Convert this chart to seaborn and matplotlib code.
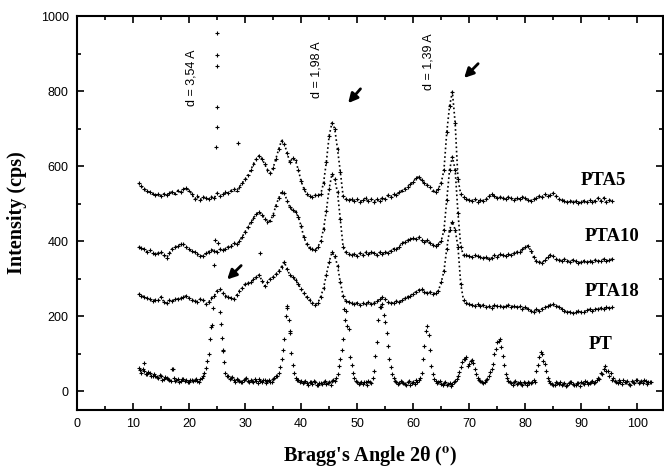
"""
XRD patterns of PT and PTA films (reference chart recreation)
"""

import numpy as np
import pandas as pd
import matplotlib
matplotlib.use("Agg")
import matplotlib.pyplot as plt
import seaborn as sns

sns.set_style("ticks")
plt.rcParams['font.family'] = ['Liberation Sans', 'DejaVu Sans']
plt.rcParams['mathtext.fontset'] = 'stix'
plt.rcParams['xtick.direction'] = 'in'
plt.rcParams['ytick.direction'] = 'in'
plt.rcParams['axes.edgecolor'] = 'black'
plt.rcParams['xtick.color'] = 'black'
plt.rcParams['ytick.color'] = 'black'
plt.rcParams['text.color'] = 'black'
plt.rcParams['axes.labelcolor'] = 'black'

# ===== DATA (intensity in cps, scan step 0.5 deg) =====
film_start, film_stop, pt_stop, step = 11.0, 95.5, 102.5, 0.5
two_theta_film = np.arange(film_start, film_stop + step / 2, step)
two_theta_pt = np.arange(film_start, pt_stop + step / 2, step)
two_theta_pt_half = two_theta_pt[:-1] + step / 2   # PT readings between the main grid

pta5 = [555, 546, 540, 534, 530, 527, 522, 525, 520, 526,
        522, 528, 532, 527, 535, 530, 538, 542, 535, 525,
        512, 520, 510, 518, 515, 512, 518, 515, 528, 520,
        525, 530, 528, 535, 540, 535, 545, 555, 565, 575,
        590, 605, 618, 628, 620, 605, 590, 582, 595, 620,
        645, 668, 660, 635, 610, 622, 615, 590, 560, 540,
        525, 520, 518, 522, 522, 525, 555, 610, 680, 715,
        700, 645, 585, 520, 512, 510, 512, 508, 512, 505,
        510, 515, 508, 512, 505, 512, 508, 516, 512, 522,
        518, 525, 522, 530, 535, 540, 545, 552, 558, 568,
        572, 562, 555, 550, 545, 535, 532, 540, 555, 590,
        690, 760, 798, 715, 565, 525, 518, 512, 510, 508,
        512, 505, 510, 508, 512, 520, 526, 520, 515, 518,
        515, 512, 518, 514, 510, 515, 512, 518, 515, 510,
        508, 512, 515, 520, 518, 525, 520, 522, 528, 520,
        512, 510, 508, 505, 508, 505, 506, 502, 505, 508,
        504, 510, 505, 508, 515, 508, 516, 505, 510, 507]

pta10 = [385, 382, 378, 372, 376, 368, 365, 368, 370, 362,
         356, 368, 380, 385, 388, 392, 392, 385, 378, 374,
         370, 366, 361, 360, 368, 372, 377, 375, 372, 378,
         376, 380, 385, 388, 395, 392, 400, 412, 425, 438,
         450, 462, 472, 478, 470, 460, 452, 455, 470, 495,
         515, 530, 528, 508, 490, 482, 478, 465, 440, 410,
         392, 382, 378, 376, 385, 400, 432, 480, 540, 578,
         565, 530, 458, 385, 370, 366, 362, 366, 360, 368,
         362, 370, 365, 372, 368, 362, 370, 366, 372, 368,
         375, 380, 378, 385, 395, 398, 402, 405, 408, 405,
         410, 402, 398, 402, 395, 390, 388, 392, 400, 430,
         510, 590, 625, 590, 475, 385, 362, 362, 360, 358,
         362, 360, 358, 355, 358, 352, 355, 362, 358, 365,
         362, 360, 365, 362, 368, 372, 370, 378, 385, 388,
         375, 358, 348, 345, 342, 350, 358, 364, 360, 352,
         350, 348, 352, 348, 345, 350, 346, 342, 345, 348,
         344, 348, 345, 350, 346, 348, 352, 348, 350, 352]

pta18 = [260, 255, 252, 248, 245, 240, 244, 242, 252, 238,
         234, 242, 240, 245, 246, 248, 252, 254, 248, 244,
         240, 239, 246, 244, 232, 238, 248, 254, 268, 272,
         262, 254, 252, 248, 246, 256, 268, 275, 285, 288,
         292, 298, 305, 310, 295, 280, 290, 300, 305, 312,
         320, 332, 345, 325, 310, 305, 296, 285, 272, 262,
         250, 242, 236, 231, 236, 252, 275, 310, 345, 370,
         360, 335, 290, 255, 240, 238, 235, 232, 236, 230,
         235, 232, 238, 232, 236, 240, 245, 250, 245, 238,
         234, 236, 240, 238, 242, 248, 252, 255, 260, 265,
         270, 272, 265, 262, 265, 260, 262, 268, 290, 320,
         380, 430, 452, 430, 385, 285, 242, 235, 232, 230,
         228, 232, 226, 230, 225, 228, 222, 230, 226, 228,
         224, 226, 230, 225, 228, 224, 226, 220, 225, 218,
         214, 212, 218, 215, 220, 224, 226, 230, 232, 228,
         225, 220, 215, 210, 212, 208, 212, 214, 210, 212,
         216, 218, 215, 220, 218, 222, 220, 224, 222, 225]

pt = [62, 50, 55, 45, 48, 40, 42, 36, 40, 33,
      35, 30, 58, 28, 32, 27, 33, 29, 26, 31,
      30, 27, 34, 40, 62, 100, 170, 337, 955, 210,
      110, 48, 40, 35, 30, 34, 28, 26, 32, 27,
      30, 26, 28, 33, 25, 30, 27, 24, 32, 40,
      50, 85, 140, 222, 160, 70, 35, 30, 28, 24,
      22, 26, 20, 24, 18, 22, 26, 20, 25, 28,
      28, 45, 85, 140, 215, 165, 70, 35, 24, 22,
      20, 24, 28, 22, 55, 130, 225, 232, 185, 120,
      65, 35, 24, 22, 26, 20, 24, 18, 25, 30,
      30, 50, 120, 175, 110, 45, 28, 25, 20, 22,
      18, 22, 20, 28, 40, 65, 85, 90, 72, 82,
      58, 35, 28, 22, 30, 40, 60, 100, 130, 140,
      95, 45, 28, 22, 25, 20, 24, 18, 22, 26,
      22, 30, 55, 90, 100, 72, 35, 22, 18, 24,
      20, 16, 22, 18, 24, 20, 17, 22, 25, 20,
      24, 22, 28, 24, 35, 50, 60, 55, 42, 30,
      28, 22, 26, 30, 24, 20, 27, 22, 30, 25,
      22, 28, 24, 26]

pt_half = [56, 58, 47, 52, 42, 45, 38, 44, 31, 37,
           33, 28, 35, 30, 25, 34, 28, 24, 30, 27,
           32, 25, 36, 48, 80, 140, 222, 651, 396, 180,
           79, 42, 33, 38, 26, 31, 24, 29, 35, 24,
           28, 32, 23, 27, 30, 22, 29, 26, 35, 42,
           65, 111, 200, 190, 103, 48, 30, 26, 22, 28,
           18, 24, 28, 17, 23, 20, 27, 22, 18, 30,
           35, 66, 110, 190, 175, 90, 48, 28, 20, 26,
           26, 18, 25, 35, 95, 190, 224, 204, 155, 85,
           45, 28, 20, 27, 22, 18, 28, 23, 20, 26,
           36, 85, 160, 150, 68, 32, 22, 27, 18, 24,
           20, 15, 25, 32, 52, 78, 87, 68, 81, 75,
           45, 30, 24, 26, 34, 52, 73, 112, 134, 118,
           70, 35, 24, 18, 28, 22, 20, 25, 18, 23,
           26, 24, 70, 105, 81, 55, 28, 20, 16, 22,
           24, 19, 15, 21, 26, 18, 22, 15, 21, 27,
           20, 26, 21, 30, 33, 45, 66, 53, 48, 35,
           25, 30, 20, 24, 28, 18, 25, 30, 21, 28,
           30, 20, 25]

# off-grid PT points on the steep (101) flank and a few strays
pt_extra_x = [12.0, 17.2, 24.1, 24.6, 24.95, 25.0, 25.0, 25.05, 25.9, 26.1, 28.7, 32.6, 37.4, 38.0, 47.7]
pt_extra_y = [74, 60, 177, 403, 704, 757, 868, 896, 143, 106, 662, 369, 226, 155, 219]

samples = ['PTA5', 'PTA10', 'PTA18', 'PT']
label_x = [93.9, 95.5, 95.5, 93.4]
label_y = [563, 412, 265, 124]

d_labels = ['d = 3,54 A', 'd = 1,98 A', 'd = 1,39 A']
d_label_x = [20.5, 42.7, 62.7]
d_label_y = [835, 856, 878]

arrow_tail = [(50.6, 806), (71.6, 873), (29.3, 335)]
arrow_head = [(48.4, 768), (69.1, 835), (26.8, 298)]

# ===== BUILD TABLES =====
films = pd.concat([pd.DataFrame({'two_theta': two_theta_film, 'intensity': vals, 'sample': name})
                   for name, vals in zip(['PTA5', 'PTA10', 'PTA18'], [pta5, pta10, pta18])],
                  ignore_index=True)
powder = pd.concat([pd.DataFrame({'two_theta': two_theta_pt, 'intensity': pt}),
                    pd.DataFrame({'two_theta': two_theta_pt_half, 'intensity': pt_half}),
                    pd.DataFrame({'two_theta': pt_extra_x, 'intensity': pt_extra_y})],
                   ignore_index=True)
black = {s: 'black' for s in samples}

# ===== PLOT =====
fig = plt.figure(figsize=(6.64, 4.67), dpi=100)
ax = fig.add_axes([0.116, 0.122, 0.8825, 0.8437])

# films: dotted trace through the scan points plus the '+' points
sns.lineplot(data=films, x='two_theta', y='intensity', hue='sample', palette=black,
             linestyle=(0, (1, 1.6)), linewidth=1.2, legend=False, ax=ax)
sns.scatterplot(data=films, x='two_theta', y='intensity', hue='sample', palette=black,
                marker='+', s=8, linewidth=0.8, legend=False, ax=ax)
# PT powder: loose '+' points only
sns.scatterplot(data=powder, x='two_theta', y='intensity', color='black',
                marker='+', s=9, linewidth=0.8, legend=False, ax=ax)

ax.set_xlim(0, 104.6)
ax.set_ylim(-50, 1000)
ax.set_xticks(np.arange(0, 101, 10))
ax.set_xticks(np.arange(5, 105, 10), minor=True)
ax.set_yticks(np.arange(0, 1001, 200))
ax.set_yticks(np.arange(100, 1000, 200), minor=True)
ax.tick_params(which='both', top=True, right=True, width=1.2, labelsize=9, pad=6)
ax.tick_params(which='major', length=5)
ax.tick_params(which='minor', length=3)
for sp in ax.spines.values():
    sp.set_linewidth(1.5)

ax.set_xlabel("Bragg's Angle 2θ ($^{\\mathbf{o}}$)", fontsize=14.5, fontweight='bold',
              family='Liberation Serif', labelpad=10)
ax.set_ylabel('Intensity (cps)', fontsize=14.5, fontweight='bold',
              family='Liberation Serif', labelpad=10)

for name, lx, ly in zip(samples, label_x, label_y):
    ax.text(lx, ly, name, fontsize=13.5, fontweight='bold', family='Liberation Serif',
            ha='center', va='center')

for txt, dx, dy in zip(d_labels, d_label_x, d_label_y):
    ax.text(dx, dy, txt, fontsize=9, rotation=90, ha='center', va='center')

for tail, head in zip(arrow_tail, arrow_head):
    ax.annotate('', xy=head, xytext=tail,
                arrowprops=dict(arrowstyle='-|>,head_length=0.55,head_width=0.28',
                                color='black', lw=2.0, shrinkA=0, shrinkB=0))

fig.savefig('out.png', dpi=100)
